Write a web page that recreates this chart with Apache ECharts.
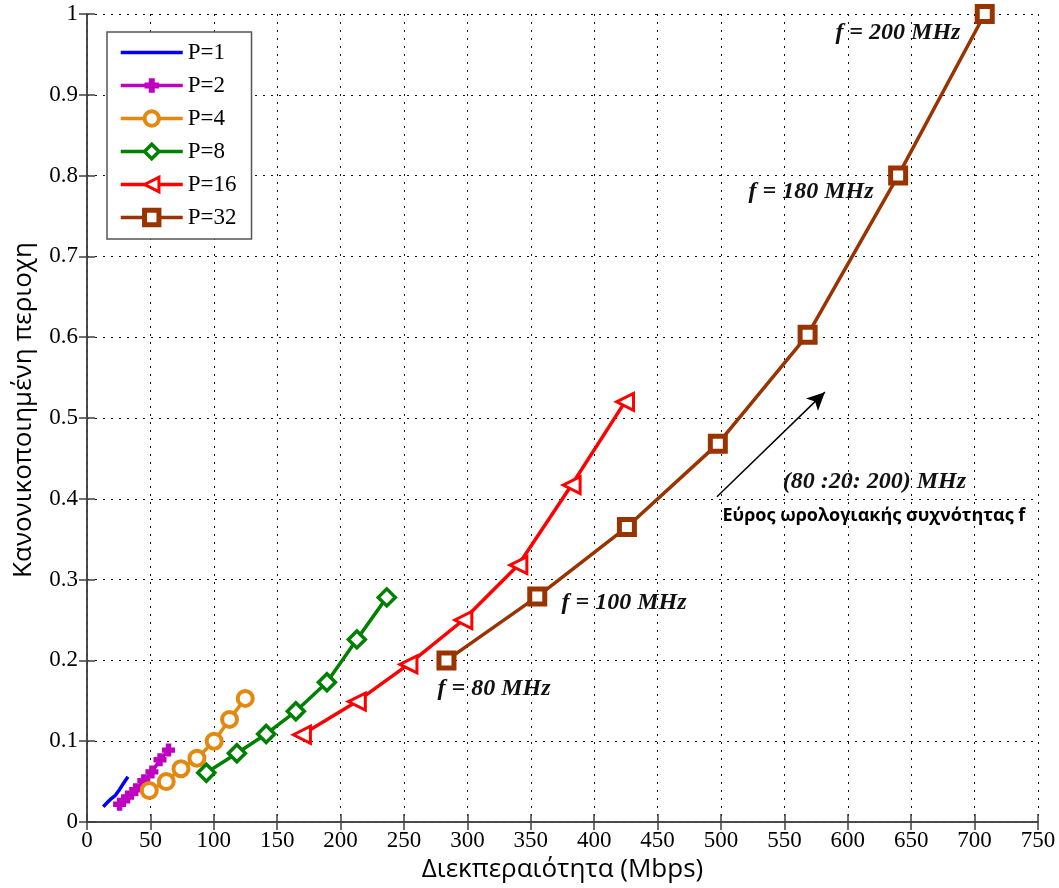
<!DOCTYPE html>
<html>
<head>
<meta charset="utf-8">
<script src="https://cdn.jsdelivr.net/npm/echarts@6/dist/echarts.min.js"></script>
<style>html,body{margin:0;padding:0;background:#fff;}#c{width:1059px;height:888px;}</style>
</head>
<body>
<div id="c"></div>
<script>
// ---- data (throughput in Mbps, normalized area) ----
var seriesNames = ['P=1', 'P=2', 'P=4', 'P=8', 'P=16', 'P=32'];
var thrP1  = [12.8, 16, 19.2, 22.4, 25.6, 28.8, 32.3];
var areaP1 = [0.019, 0.024, 0.029, 0.033, 0.040, 0.048, 0.056];
var thrP2  = [25.7, 32, 38.4, 44.8, 51.2, 57.6, 64.3];
var areaP2 = [0.022, 0.031, 0.040, 0.051, 0.062, 0.077, 0.089];
var thrP4  = [49.1, 62.5, 74.1, 86.7, 100.3, 112.4, 124.8];
var areaP4 = [0.039, 0.050, 0.066, 0.079, 0.100, 0.127, 0.153];
var thrP8  = [94.1, 118.2, 141.3, 164.7, 189.2, 212.8, 236.4];
var areaP8 = [0.061, 0.085, 0.109, 0.137, 0.173, 0.226, 0.278];
var thrP16  = [169.5, 212.8, 253.5, 296.8, 340.2, 382.2, 424.3];
var areaP16 = [0.108, 0.149, 0.195, 0.250, 0.318, 0.417, 0.520];
var thrP32  = [283.5, 355.1, 425.8, 497.5, 568.3, 639.7, 708.0];
var areaP32 = [0.200, 0.279, 0.365, 0.468, 0.603, 0.800, 1.000];
var xTicks = {min: 0, max: 750, interval: 50};
var yTicks = {min: 0, max: 1, interval: 0.1};
// annotations: [text, x, y]
var notes = [
  ['f = 200 MHz', 639.5, 0.977],
  ['f = 180 MHz', 571, 0.780],
  ['f = 100 MHz', 423.6, 0.271],
  ['f = 80 MHz', 321, 0.165],
  ['(80 :20: 200) MHz', 621, 0.421]
];
var note2 = ['Εύρος ωρολογιακής συχνότητας f', 620.6, 0.379];
var arrowFrom = [496.8, 0.4025];
var arrowTo = [581.9, 0.532];

function pairs(xs, ys) { return xs.map(function (x, i) { return [x, ys[i]]; }); }

var colors = ['#0000ff', '#c000c0', '#e3890f', '#008000', '#ff0000', '#993300'];
var serif = 'Liberation Serif';
var sans = 'Open Sans';

var plusPath = 'path://M3.5,0h5v3.5h3.5v5h-3.5v3.5h-5v-3.5h-3.5v-5h3.5z';

function mk(name, xs, ys, color, symbol, size, rot, bw) {
  var filled = (symbol === plusPath || symbol === 'none');
  return {
    name: name, type: 'line', data: pairs(xs, ys),
    symbol: symbol, symbolSize: size, symbolRotate: rot || 0,
    showAllSymbol: true,
    lineStyle: {color: color, width: 3.5},
    itemStyle: {color: filled ? color : '#fff', borderColor: color, borderWidth: bw},
    emphasis: {disabled: true},
    z: 3
  };
}

var chart = echarts.init(document.getElementById('c'), null, {renderer: 'canvas'});
var series = [
  mk('P=1', thrP1, areaP1, colors[0], 'none', 0, 0, 0),
  mk('P=2', thrP2, areaP2, colors[1], plusPath, 13, 0, 0),
  mk('P=4', thrP4, areaP4, colors[2], 'circle', 15, 0, 4),
  mk('P=8', thrP8, areaP8, colors[3], 'diamond', 17, 0, 3.5),
  mk('P=16', thrP16, areaP16, colors[4], 'triangle', 17, 90, 3),
  mk('P=32', thrP32, areaP32, colors[5], 'rect', 15, 0, 5),
  {
    type: 'line', data: [], silent: true,
    markLine: {
      silent: true, symbol: ['none', 'arrow'], symbolSize: [13, 18],
      label: {show: false},
      lineStyle: {color: '#000', width: 1.5, type: 'solid'},
      data: [[{coord: arrowFrom}, {coord: arrowTo}]]
    }
  }
];

var axisLine = {show: true, lineStyle: {color: '#404040', width: 1.5}};
var grid = {left: 87, right: 21, top: 14, bottom: 66, containLabel: false};
var tickRich = {t: {fontFamily: serif, fontSize: 23, color: '#000'}};

var legendData = seriesNames.map(function (n, i) {
  return i === 0 ? {name: n, itemStyle: {opacity: 0}} : {name: n};
});

chart.setOption({
  animation: false,
  backgroundColor: '#fff',
  grid: grid,
  legend: {
    data: legendData, orient: 'vertical', left: 107, top: 32,
    padding: [9, 15, 10, 12], itemWidth: 62, itemHeight: 18, itemGap: 10,
    backgroundColor: '#fff', borderColor: '#555', borderWidth: 1.5,
    lineStyle: {width: 'inherit'},
    itemStyle: {borderWidth: 'inherit'},
    textStyle: {fontFamily: serif, fontSize: 23, color: '#000', lineHeight: 23},
    selectedMode: false
  },
  xAxis: [{
    type: 'value', min: xTicks.min, max: xTicks.max, interval: xTicks.interval,
    name: 'Διεκπεραιότητα (Mbps)', nameLocation: 'middle', nameGap: 34,
    nameTextStyle: {fontFamily: sans, fontSize: 26, color: '#000'},
    axisLine: axisLine,
    axisTick: {show: true, inside: true, length: 8, lineStyle: {color: '#404040', width: 1.5}},
    axisLabel: {fontFamily: serif, fontSize: 23, color: '#000', margin: 7,
      formatter: function (v) { return '{t|' + Math.round(v) + '}'; }, rich: tickRich},
    splitLine: {show: true, lineStyle: {color: '#111', width: 1, type: [2, 6]}}
  }, {
    type: 'value', position: 'top', min: xTicks.min, max: xTicks.max, interval: xTicks.interval,
    axisLine: axisLine,
    axisTick: {show: true, inside: true, length: 8, lineStyle: {color: '#404040', width: 1.5}},
    axisLabel: {show: false}, splitLine: {show: false}
  }],
  yAxis: [{
    type: 'value', min: yTicks.min, max: yTicks.max, interval: yTicks.interval,
    name: 'Κανονικοποιημένη περιοχη', nameLocation: 'middle', nameGap: 50,
    nameTextStyle: {fontFamily: sans, fontSize: 26, color: '#000', padding: [0, 0, 0, 16]},
    axisLine: axisLine,
    axisTick: {show: true, inside: true, length: 8, lineStyle: {color: '#404040', width: 1.5}},
    axisLabel: {fontFamily: serif, fontSize: 23, color: '#000', margin: 9,
      formatter: function (v) { return '{t|' + parseFloat(v.toFixed(1)) + '}'; }, rich: tickRich},
    splitLine: {show: true, lineStyle: {color: '#111', width: 1, type: [2, 6]}}
  }, {
    type: 'value', position: 'right', min: yTicks.min, max: yTicks.max, interval: yTicks.interval,
    axisLine: axisLine,
    axisTick: {show: true, inside: true, length: 8, lineStyle: {color: '#404040', width: 1.5}},
    axisLabel: {show: false}, splitLine: {show: false}
  }],
  series: series
});

var graphics = notes.map(function (n) {
  var p = chart.convertToPixel({xAxisIndex: 0, yAxisIndex: 0}, [n[1], n[2]]);
  return {
    type: 'text', x: p[0], y: p[1], z: 10, silent: true,
    style: {text: n[0], fill: '#111', font: 'italic bold 24px "Liberation Serif"', align: 'center', verticalAlign: 'middle'}
  };
});
var p2 = chart.convertToPixel({xAxisIndex: 0, yAxisIndex: 0}, [note2[1], note2[2]]);
graphics.push({
  type: 'text', x: p2[0], y: p2[1], z: 10, silent: true,
  style: {text: note2[0], fill: '#000', font: 'bold 18px "Open Sans"', align: 'center', verticalAlign: 'middle'}
});
chart.setOption({graphic: graphics});
</script>
</body>
</html>
